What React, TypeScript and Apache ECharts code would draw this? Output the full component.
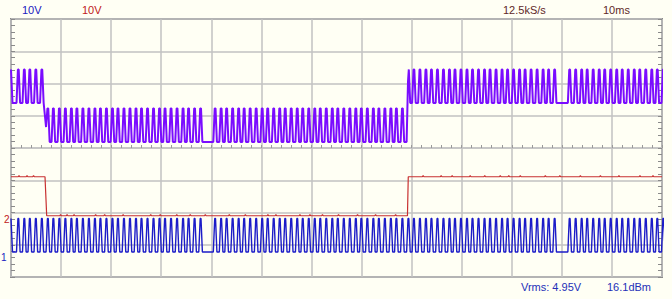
import React, { useEffect, useRef } from "react";
import * as echarts from "echarts";

// ---- Axis ranges (time in ms, amplitude in V) ----
const timeMin = 0;
const timeMax = 130;
const timeStep = 10;
const voltMin = -10;
const voltMax = 10;
const voltStep = 2.5;

// ---- Channel A (blue): rise times of each pulse (ms) ----
const blueRiseTimes = [
  1.1, 2.3, 3.4, 4.6, 5.8, 7.0, 8.1, 9.3, 10.5, 11.7, 12.8, 14.0, 15.2, 16.4, 17.5, 18.7,
  19.9, 21.0, 22.2, 23.4, 24.6, 25.7, 26.9, 28.1, 29.3, 30.4, 31.6, 32.8, 34.0, 35.1, 36.3, 37.5,
  40.4, 41.6, 42.7, 43.9, 45.1, 46.2, 47.4, 48.6, 49.8, 50.9, 52.1, 53.3, 54.4, 55.6, 56.8, 57.9,
  59.1, 60.3, 61.4, 62.6, 63.8, 64.9, 66.1, 67.3, 68.5, 69.6, 70.8, 72.0, 73.1, 74.3, 75.5, 76.6,
  77.8, 79.0, 80.1, 81.3, 82.5, 83.6, 84.8, 86.0, 87.2, 88.3, 89.5, 90.7, 91.8, 93.0, 94.2, 95.3,
  96.5, 97.7, 98.8, 100.0, 101.2, 102.3, 103.5, 104.7, 105.9, 107.0, 108.2,
  111.2, 112.4, 113.6, 114.7, 115.9, 117.1, 118.2, 119.4, 120.6, 121.7, 122.9, 124.1, 125.2,
  126.4, 127.6, 128.7, 129.9,
];
// pulse shape: [offset from rise (ms), level]
const blueHigh = -5.46;
const blueLow = -8.06;
const bluePulseShape: [number, number][] = [
  [0, blueLow],
  [0.28, blueHigh],
  [0.44, blueHigh],
  [0.72, blueLow],
];
const blueStart: [number, number][] = [
  [0, blueHigh],
  [0.3, blueLow],
];

// ---- Channel B (red): step levels ----
const redSteps: [number, number][] = [
  [0, -2.23],
  [6.79, -2.23],
  [7.13, -5.25],
  [79.17, -5.25],
  [79.33, -2.23],
  [130, -2.23],
];
// small one-pixel glitches on the red trace (ms)
const redBumps = [
  1.6, 3.2, 4.5, 9.9, 11.2, 12.6, 16.9, 18.7, 22.4, 27.9, 29.8, 33.1, 35.8, 38.8, 43.6, 46.8,
  51.3, 52.9, 57.7, 59.7, 62.2, 65.4, 69.2, 72.8, 76.8, 82.3, 85.9, 88.1, 91.7, 94.6, 97.7,
  99.4, 101.7, 106.7, 109.6, 113.7, 117.7, 121.4, 125.6, 128.2,
];
const redBumpHeight = 0.1;

// ---- Math channel (purple) = A + B + offset ----
const mathOffset = 13.78;

// ---- Texts ----
const rangeA = "10V";
const rangeB = "10V";
const sampleRate = "12.5kS/s";
const timebase = "10ms";
const vrmsText = "Vrms: 4.95V";
const dbmText = "16.1dBm";
const markerA = "1";
const markerB = "2";

function redAt(t: number): number {
  for (let i = 0; i < redSteps.length - 1; i++) {
    const [t0, v0] = redSteps[i];
    const [t1, v1] = redSteps[i + 1];
    if (t >= t0 && t <= t1) {
      if (t1 === t0) return v0;
      return v0 + ((v1 - v0) * (t - t0)) / (t1 - t0);
    }
  }
  return redSteps[redSteps.length - 1][1];
}

function buildBlue(): [number, number][] {
  const pts: [number, number][] = [...blueStart];
  for (const r of blueRiseTimes) {
    for (const [dt, v] of bluePulseShape) pts.push([+(r + dt).toFixed(3), v]);
  }
  return pts;
}

function buildRed(): [number, number][] {
  const pts: [number, number][] = redSteps.map((p) => [p[0], p[1]] as [number, number]);
  for (const b of redBumps) {
    const base = redAt(b);
    pts.push([b - 0.15, base], [b, base + redBumpHeight], [b + 0.15, base]);
  }
  pts.sort((a, b) => a[0] - b[0]);
  return pts;
}

export default function App() {
  const ref = useRef<HTMLDivElement>(null);
  useEffect(() => {
    document.body.style.margin = "0";
    if (!ref.current) return;
    const chart = echarts.init(ref.current, undefined, { renderer: "svg" });
    const blue = buildBlue();
    const red = buildRed();
    const purple = blue.map(([t, v]) => [t, +(v + redAt(t) + mathOffset).toFixed(3)]);

    const gridGray = "#c2c2c2";
    const frameGray = "#8a8a8a";
    const font = "11px 'Liberation Sans', Arial, sans-serif";
    const smallFont = "10px 'Liberation Sans', Arial, sans-serif";
    const bg = "#fffff4";

    chart.setOption({
      animation: false,
      backgroundColor: bg,
      grid: {
        show: true,
        left: 11,
        top: 19,
        width: 651,
        height: 258,
        backgroundColor: bg,
        borderColor: frameGray,
        borderWidth: 2,
      },
      xAxis: [
        {
          type: "value",
          min: timeMin,
          max: timeMax,
          interval: timeStep,
          axisLine: { show: true, onZero: true, lineStyle: { color: gridGray, width: 1.5 } },
          axisTick: { show: true, inside: true, length: 3, lineStyle: { color: "#9a9a9a" } },
          minorTick: { show: true, splitNumber: 5, length: 3, lineStyle: { color: "#9a9a9a" } },
          axisLabel: { show: false },
          splitLine: { show: true, lineStyle: { color: gridGray, width: 1.5 } },
        },
        {
          type: "value",
          min: timeMin,
          max: timeMax,
          interval: timeStep,
          axisLine: { show: false, onZero: true },
          axisTick: { show: true, inside: false, length: 3, lineStyle: { color: "#9a9a9a" } },
          minorTick: { show: true, splitNumber: 5, length: 3, lineStyle: { color: "#9a9a9a" } },
          axisLabel: { show: false },
          splitLine: { show: false },
        },
      ],
      yAxis: [
        {
          type: "value",
          position: "left",
          min: voltMin,
          max: voltMax,
          interval: voltStep,
          axisLine: { show: false, onZero: false },
          axisTick: { show: true, inside: true, length: 4, lineStyle: { color: frameGray } },
          minorTick: { show: true, splitNumber: 5, length: 4, lineStyle: { color: frameGray } },
          axisLabel: { show: false },
          splitLine: { show: true, lineStyle: { color: gridGray, width: 1.5 } },
        },
        {
          type: "value",
          position: "right",
          min: voltMin,
          max: voltMax,
          interval: voltStep,
          axisLine: { show: false, onZero: false },
          axisTick: { show: true, inside: true, length: 4, lineStyle: { color: frameGray } },
          minorTick: { show: true, splitNumber: 5, length: 4, lineStyle: { color: frameGray } },
          axisLabel: { show: false },
          splitLine: { show: false },
        },
      ],
      series: [
        {
          name: "B",
          type: "line",
          data: red,
          symbol: "none",
          lineStyle: { color: "#c83030", width: 1.2 },
          z: 3,
        },
        {
          name: "A",
          type: "line",
          data: blue,
          symbol: "none",
          lineStyle: { color: "#1c1cc8", width: 1.4 },
          z: 4,
        },
        {
          name: "A+B",
          type: "line",
          data: purple,
          symbol: "none",
          lineStyle: { color: "#7a0cff", width: 2 },
          z: 5,
        },
      ],
      graphic: [
        { type: "text", x: 22, y: 10, style: { text: rangeA, font, fill: "#2020c0", verticalAlign: "middle" } },
        { type: "text", x: 82, y: 10, style: { text: rangeB, font, fill: "#c02020", verticalAlign: "middle" } },
        { type: "text", x: 503, y: 10, style: { text: sampleRate, font, fill: "#602828", verticalAlign: "middle" } },
        { type: "text", x: 603, y: 10, style: { text: timebase, font, fill: "#602828", verticalAlign: "middle" } },
        { type: "text", x: 521, y: 287, style: { text: vrmsText, font, fill: "#2430b8", verticalAlign: "middle" } },
        { type: "text", x: 607, y: 287, style: { text: dbmText, font, fill: "#2430b8", verticalAlign: "middle" } },
        { type: "text", x: 4, y: 219, style: { text: markerB, font: smallFont, fill: "#c02020", verticalAlign: "middle" } },
        { type: "text", x: 1, y: 257, style: { text: markerA, font: smallFont, fill: "#2020c0", verticalAlign: "middle" } },
      ],
    });
    return () => chart.dispose();
  }, []);
  return <div ref={ref} style={{ width: 672, height: 299 }} />;
}
